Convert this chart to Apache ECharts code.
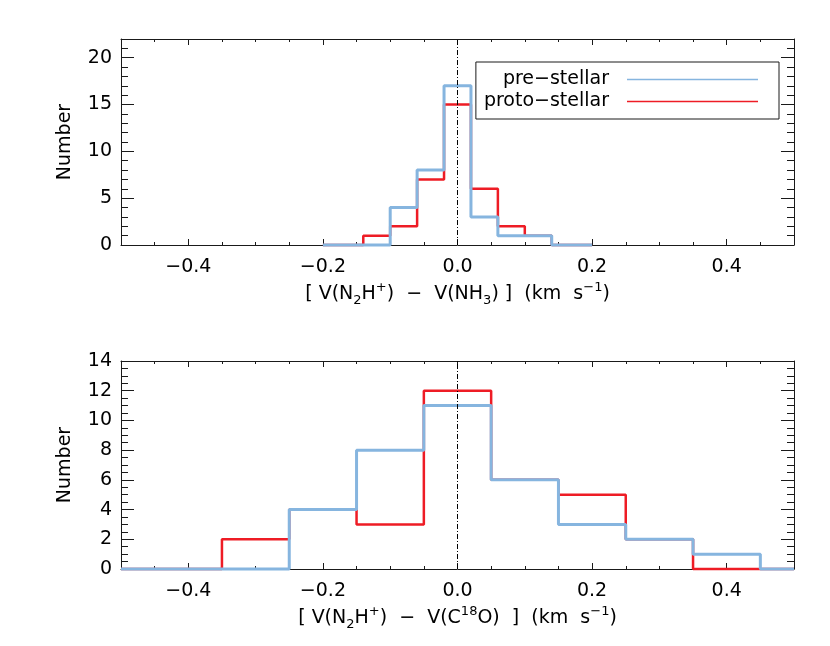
<!DOCTYPE html>
<html>
<head>
<meta charset="utf-8">
<script src="https://cdn.jsdelivr.net/npm/echarts@6/dist/echarts.min.js"></script>
<style>html,body{margin:0;padding:0;background:#fff;}#chart{width:830px;height:646px;}</style>
</head>
<body>
<div id="chart"></div>
<script>
// ---- data ----
const seriesNames = ['pre\u2212stellar', 'proto\u2212stellar'];

const topBinCenters = [-0.2, -0.16, -0.12, -0.08, -0.04, 0.0, 0.04, 0.08, 0.12, 0.16, 0.2];
const topPreStellar = [0, 0, 0, 4, 8, 17, 3, 1, 1, 0, 0];
const topProtoStellar = [0, 0, 1, 2, 7, 15, 6, 2, 1, 0, 0];

const botBinCenters = [-0.5, -0.4, -0.3, -0.2, -0.1, 0.0, 0.1, 0.2, 0.3, 0.4, 0.5];
const botPreStellar = [0, 0, 0, 4, 8, 11, 6, 3, 2, 1, 0];
const botProtoStellar = [0, 0, 2, 4, 3, 12, 6, 5, 2, 0, 0];

const xMin = -0.5, xMax = 0.5;
const xMajorTicks = [-0.4, -0.2, 0.0, 0.2, 0.4];
const xMinorStep = 0.05;
const topYMax = 22, topYMajorStep = 5, topYMinorStep = 1;
const botYMax = 14, botYMajorStep = 2, botYMinorStep = 0.5;
const yTitle = 'Number';

// ---- style ----
const FONT = 'DejaVu Sans';
const FS = 19;
const AX = '#1a1a1a';
const BLUE = '#86B5DF';
const RED = '#EE1C25';

function fmtX(v) {
  const s = Math.abs(v) < 1e-9 ? '0.0' : v.toFixed(1);
  return s.replace('-', '\u2212');
}

const rich = {
  m: {fontSize: FS, fontFamily: FONT, color: '#000', lineHeight: 26},
  sub: {fontSize: 13, fontFamily: FONT, color: '#000', lineHeight: 13, verticalAlign: 'bottom'},
  sup: {fontSize: 13, fontFamily: FONT, color: '#000', lineHeight: 13, verticalAlign: 'top'}
};
const topXTitle = '{m|[ V(N}{sub|2}{m|H}{sup|+}{m|)  \u2212  V(NH}{sub|3}{m|) ]  (km  s}{sup|\u22121}{m|)}';
const botXTitle = '{m|[ V(N}{sub|2}{m|H}{sup|+}{m|)  \u2212  V(C}{sup|18}{m|O)  ]  (km  s}{sup|\u22121}{m|)}';

function xAxes(gridIndex, title) {
  const base = {gridIndex, type: 'value', min: xMin, max: xMax, splitLine: {show: false}};
  return [
    Object.assign({}, base, {
      position: 'bottom',
      axisLine: {show: true, onZero: false, lineStyle: {color: AX, width: 1}},
      axisTick: {show: true, inside: true, length: 6, customValues: xMajorTicks, lineStyle: {color: AX}},
      axisLabel: {show: true, customValues: xMajorTicks, formatter: fmtX, margin: 13,
        fontSize: FS, fontFamily: FONT, color: '#000'},
      name: title, nameLocation: 'middle', nameGap: 36,
      nameTextStyle: {rich: rich}
    }),
    Object.assign({}, base, {
      position: 'bottom', interval: xMinorStep,
      axisLine: {show: false, onZero: false},
      axisTick: {show: true, inside: true, length: 3, lineStyle: {color: AX}},
      axisLabel: {show: false}
    }),
    Object.assign({}, base, {
      position: 'top',
      axisLine: {show: true, onZero: false, lineStyle: {color: AX, width: 1}},
      axisTick: {show: true, inside: true, length: 6, customValues: xMajorTicks, lineStyle: {color: AX}},
      axisLabel: {show: false}
    }),
    Object.assign({}, base, {
      position: 'top', interval: xMinorStep,
      axisLine: {show: false, onZero: false},
      axisTick: {show: true, inside: true, length: 3, lineStyle: {color: AX}},
      axisLabel: {show: false}
    })
  ];
}

function yAxes(gridIndex, ymax, majorStep, minorStep) {
  const base = {gridIndex, type: 'value', min: 0, max: ymax, splitLine: {show: false}};
  const maxIsTick = Math.abs(ymax / majorStep - Math.round(ymax / majorStep)) < 1e-9;
  return [
    Object.assign({}, base, {
      position: 'left', interval: majorStep,
      axisLine: {show: true, onZero: false, lineStyle: {color: AX, width: 1}},
      axisTick: {show: true, inside: true, length: 13, lineStyle: {color: AX}},
      axisLabel: {show: true, showMaxLabel: maxIsTick, margin: 9, fontSize: FS, fontFamily: FONT, color: '#000'},
      name: yTitle, nameLocation: 'middle', nameRotate: 90, nameGap: 46,
      nameTextStyle: {fontSize: FS, fontFamily: FONT, color: '#000'}
    }),
    Object.assign({}, base, {
      position: 'left', interval: minorStep,
      axisLine: {show: false, onZero: false},
      axisTick: {show: true, inside: true, length: 7, lineStyle: {color: AX}},
      axisLabel: {show: false}
    }),
    Object.assign({}, base, {
      position: 'right', interval: majorStep,
      axisLine: {show: true, onZero: false, lineStyle: {color: AX, width: 1}},
      axisTick: {show: true, inside: true, length: 13, lineStyle: {color: AX}},
      axisLabel: {show: false}
    }),
    Object.assign({}, base, {
      position: 'right', interval: minorStep,
      axisLine: {show: false, onZero: false},
      axisTick: {show: true, inside: true, length: 7, lineStyle: {color: AX}},
      axisLabel: {show: false}
    })
  ];
}

function pairs(xs, ys) { return xs.map((x, i) => [x, ys[i]]); }

function stepSeries(name, color, width, xIdx, yIdx, xs, ys, withZeroLine) {
  const s = {
    name, type: 'line', step: 'middle', xAxisIndex: xIdx, yAxisIndex: yIdx,
    data: pairs(xs, ys), symbol: 'none', showSymbol: false, clip: false,
    color: color, lineStyle: {color: color, width: width}, animation: false, silent: true
  };
  if (withZeroLine) {
    s.markLine = {
      silent: true, symbol: ['none', 'none'], label: {show: false}, animation: false,
      lineStyle: {color: '#000', width: 1, type: [5, 2, 1, 2]},
      data: [{xAxis: 0}]
    };
  }
  return s;
}

const chart = echarts.init(document.getElementById('chart'), null, {renderer: 'canvas'});
chart.setOption({
  backgroundColor: '#fff',
  animation: false,
  grid: [
    {left: 121, top: 39, width: 673, height: 206},
    {left: 121, top: 361, width: 673, height: 208}
  ],
  xAxis: xAxes(0, topXTitle).concat(xAxes(1, botXTitle)),
  yAxis: yAxes(0, topYMax, topYMajorStep, topYMinorStep).concat(yAxes(1, botYMax, botYMajorStep, botYMinorStep)),
  legend: {
    data: seriesNames, orient: 'vertical', align: 'right', right: 51, top: 62,
    icon: 'rect', itemWidth: 131, itemHeight: 1.5, itemGap: 3,
    padding: [8, 21, 8, 8], borderColor: AX, borderWidth: 1, selectedMode: false,
    itemStyle: {borderWidth: 0},
    textStyle: {fontSize: FS, fontFamily: FONT, color: '#000', padding: [0, 13, 0, 0]}
  },
  series: [
    stepSeries(seriesNames[1], RED, 2.5, 0, 0, topBinCenters, topProtoStellar, true),
    stepSeries(seriesNames[0], BLUE, 3, 0, 0, topBinCenters, topPreStellar, false),
    stepSeries(seriesNames[1], RED, 2.5, 4, 4, botBinCenters, botProtoStellar, true),
    stepSeries(seriesNames[0], BLUE, 3, 4, 4, botBinCenters, botPreStellar, false)
  ]
});
</script>
</body>
</html>
